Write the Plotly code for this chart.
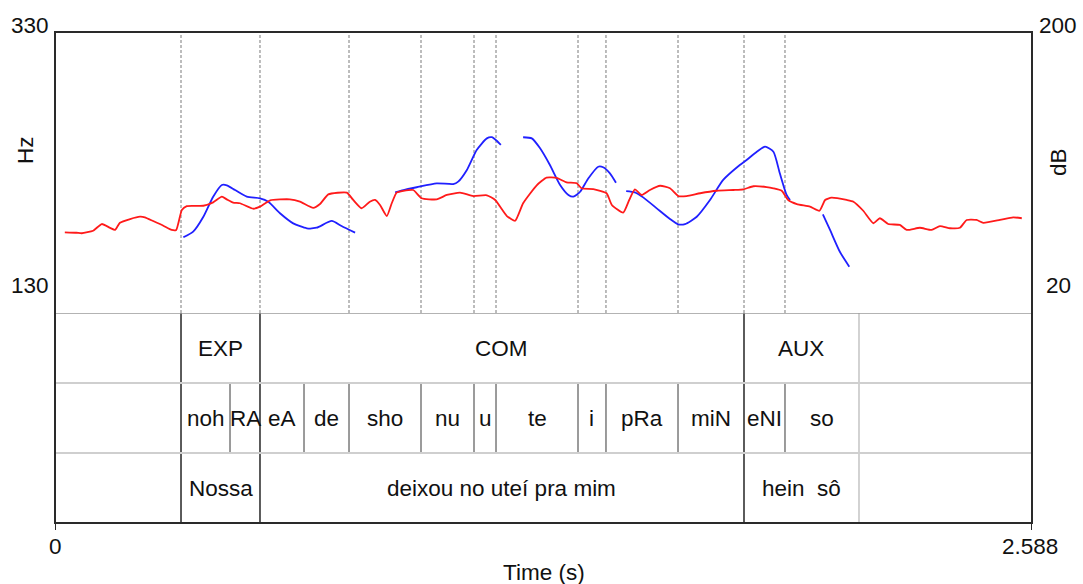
import plotly.graph_objects as go

# ---------------- data ----------------
T_MAX = 2.588

# intensity (dB), red curve
int_t = [0.026, 0.057, 0.071, 0.101, 0.124, 0.146, 0.159, 0.172, 0.199, 0.225, 0.238, 0.260, 0.287,
         0.309, 0.321, 0.336, 0.349, 0.393, 0.419, 0.442, 0.455, 0.472, 0.490, 0.525, 0.543, 0.570,
         0.622, 0.649, 0.684, 0.702, 0.724, 0.773, 0.790, 0.812, 0.834, 0.848, 0.861, 0.879, 0.892,
         0.905, 0.923, 0.949, 0.971, 1.011, 1.038, 1.073, 1.108, 1.144, 1.166, 1.197, 1.219, 1.240,
         1.276, 1.302, 1.329, 1.355, 1.382, 1.395, 1.426, 1.461, 1.475, 1.505, 1.521, 1.536, 1.554,
         1.576, 1.603, 1.629, 1.651, 1.673, 1.709, 1.753, 1.797, 1.823, 1.850, 1.885, 1.903, 1.925,
         1.942, 1.965, 2.000, 2.025, 2.040, 2.057, 2.097, 2.115, 2.141, 2.168, 2.185, 2.207, 2.238,
         2.256, 2.291, 2.322, 2.344, 2.371, 2.397, 2.415, 2.441, 2.459, 2.503, 2.538, 2.561]
int_db = [71.7, 71.4, 71.1, 72.7, 77.0, 74.5, 73.2, 77.8, 80.2, 81.7, 81.3, 78.9, 75.9,
          73.2, 73.2, 86.0, 88.5, 88.7, 90.9, 94.5, 92.8, 90.7, 90.3, 86.8, 88.1, 92.2,
          92.8, 91.3, 87.3, 89.8, 96.0, 97.1, 92.4, 87.1, 91.3, 92.4, 89.2, 82.1, 90.3,
          97.1, 98.3, 98.8, 93.5, 92.8, 95.6, 97.1, 94.9, 95.4, 92.4, 82.1, 79.1, 90.3,
          101.8, 106.7, 106.5, 103.7, 103.1, 99.9, 99.4, 96.7, 89.2, 84.3, 92.4, 99.2, 95.6,
          98.8, 101.5, 99.9, 94.9, 94.9, 96.7, 98.3, 98.8, 99.2, 101.2, 100.7, 99.9, 98.3,
          92.4, 89.8, 88.1, 85.5, 92.4, 93.9, 92.4, 91.3, 85.5, 77.5, 80.7, 77.0, 76.4,
          73.2, 74.6, 73.2, 75.7, 74.3, 74.6, 79.6, 79.6, 77.8, 79.6, 81.3, 80.7]

# pitch (Hz), blue curve, None = unvoiced gap
pitch_t = [0.340, 0.366, 0.393, 0.419, 0.442, 0.455, 0.477, 0.508, 0.543, 0.565, 0.596, 0.631,
           0.667, 0.693, 0.733, 0.759, 0.795, None,
           0.901, 0.923, 0.958, 1.011, 1.055, 1.068, 1.091, 1.117, 1.144, 1.157, 1.170, 1.181, None,
           1.240, 1.263, 1.285, 1.311, 1.338, 1.360, 1.373, 1.391, 1.413, 1.439, 1.452, 1.470,
           1.486, None,
           1.513, 1.536, 1.558, 1.594, 1.629, 1.651, 1.669, 1.700, 1.735, 1.770, 1.814, 1.832,
           1.859, 1.881, 1.903, 1.920, 1.938, 1.947, None,
           2.034, 2.053, 2.079, 2.104]
pitch_hz = [183.9, 187.9, 198.5, 212.8, 221.1, 220.9, 217.5, 212.8, 211.6, 209.2, 201.0, 193.8,
            190.3, 190.7, 195.5, 191.9, 187.2, None,
            215.9, 217.5, 219.5, 222.3, 221.8, 223.5, 231.8, 246.0, 254.3, 255.1, 252.6, 249.6, None,
            255.1, 254.3, 247.2, 235.3, 221.1, 214.0, 212.8, 216.3, 225.9, 234.1, 233.7, 229.4,
            222.7, None,
            216.8, 215.9, 212.3, 204.5, 196.9, 193.1, 193.3, 198.5, 210.4, 224.7, 235.3, 238.9,
            244.8, 248.4, 244.8, 229.4, 214.0, 210.4, None,
            200.2, 189.1, 173.6, 163.0]

HZ_RANGE = [130, 330]
DB_RANGE = [20, 200]

# TextGrid tiers
tier1_bounds = [0.3338, 0.5430, 1.8251, 2.1297]
tier1_labels = ["", "EXP", "COM", "AUX", ""]
tier2_bounds = [0.3338, 0.4636, 0.5430, 0.6596, 0.7788, 0.9695, 1.1099, 1.1682,
                1.3854, 1.4595, 1.6503, 1.8251, 1.9337, 2.1297]
tier2_labels = ["", "noh", "RA", "eA", "de", "sho", "nu", "u", "te", "i", "pRa", "miN", "eNI", "so", ""]
tier3_bounds = [0.3338, 0.5430, 1.8251, 2.1297]
tier3_labels = ["", "Nossa", "deixou no uteí pra mim", "hein  sô", ""]

# boundaries that are marked in the pitch panel
pitch_marks = [0.3338, 0.5430, 0.7788, 0.9695, 1.1099, 1.1682, 1.3854, 1.4595, 1.6503, 1.8251, 1.9337]

# ---------------- layout helpers ----------------
W, H = 1083, 584
L, R, TOP, BOT = 55, 1032, 32, 523          # frame in pixels
SPLIT = 313                                   # pitch panel / tiers
FONT = "Liberation Sans, Arial, sans-serif"
FS = 22.5


def px(x):
    return (x - L) / (R - L)


def py(y):
    return (BOT - y) / (BOT - TOP)


fig = go.Figure()

fig.add_trace(go.Scatter(x=int_t, y=int_db, mode="lines", yaxis="y2",
                         line=dict(color="#ff1a1a", width=1.8, shape="spline", smoothing=0.5),
                         connectgaps=False, hoverinfo="skip", showlegend=False))
fig.add_trace(go.Scatter(x=pitch_t, y=pitch_hz, mode="lines", yaxis="y",
                         line=dict(color="#2020ff", width=1.8, shape="spline", smoothing=0.6),
                         connectgaps=False, hoverinfo="skip", showlegend=False))

shapes = []
# dotted marks in pitch panel
for t in pitch_marks:
    shapes.append(dict(type="line", xref="x", yref="y", x0=t, x1=t, y0=HZ_RANGE[0], y1=HZ_RANGE[1],
                       line=dict(color="#7a7a7a", width=1, dash="3px,2px"), layer="below"))

# tier boundaries
main = set(tier1_bounds[:-1])
for k, bounds in enumerate([tier1_bounds, tier2_bounds, tier3_bounds]):
    y_lo, y_hi = 2 - k, 3 - k
    for i, b in enumerate(bounds):
        if b in main:
            col, w = "#333333", 1.6
        elif b == bounds[-1]:
            col, w = "#c8c8c8", 1.6
        else:
            col, w = "#7a7a7a", 1.5
        shapes.append(dict(type="line", xref="x", yref="y3", x0=b, x1=b, y0=y_lo, y1=y_hi,
                           line=dict(color=col, width=w)))

# horizontal separators
shapes.append(dict(type="line", xref="paper", yref="y3", x0=0, x1=1, y0=3, y1=3,
                   line=dict(color="#9a9a9a", width=1.6)))
for yv in (1, 2):
    shapes.append(dict(type="line", xref="paper", yref="y3", x0=0, x1=1, y0=yv, y1=yv,
                       line=dict(color="#cfcfcf", width=1.8)))
# frame
shapes.append(dict(type="rect", xref="paper", yref="paper", x0=0, x1=1, y0=0, y1=1,
                   line=dict(color="#2a2a2a", width=2)))
# bottom ticks
for t in (0, T_MAX):
    shapes.append(dict(type="line", xref="x", yref="paper", x0=t, x1=t, y0=0, y1=py(530),
                       line=dict(color="#2a2a2a", width=2)))

annotations = []


def add_text(text, x, y, xref="paper", yref="paper", angle=0, size=FS):
    annotations.append(dict(text=text, x=x, y=y, xref=xref, yref=yref, showarrow=False,
                            xanchor="center", yanchor="middle", textangle=angle,
                            font=dict(family=FONT, size=size, color="#111111")))


for k, (bounds, labels) in enumerate([(tier1_bounds, tier1_labels),
                                      (tier2_bounds, tier2_labels),
                                      (tier3_bounds, tier3_labels)]):
    edges = [0] + bounds + [T_MAX]
    for i, lab in enumerate(labels):
        if lab:
            add_text(lab, (edges[i] + edges[i + 1]) / 2, 2.5 - k, xref="x", yref="y3")

add_text(str(HZ_RANGE[1]), px(30), py(25))
add_text(str(HZ_RANGE[0]), px(30), py(285))
add_text("Hz", px(25), py(150), angle=-90)
add_text(str(DB_RANGE[1]), px(1058), py(25))
add_text(str(DB_RANGE[0]), px(1058), py(285))
add_text("dB", px(1058), py(162), angle=-90)
add_text("0", px(55), py(546))
add_text(f"{T_MAX:.3f}", px(1030), py(546))
add_text("Time (s)", px(544), py(572))

split_frac = py(SPLIT)
fig.update_layout(
    width=W, height=H,
    margin=dict(l=L, r=W - R, t=TOP, b=H - BOT, pad=0),
    paper_bgcolor="white", plot_bgcolor="white",
    xaxis=dict(range=[0, T_MAX], showgrid=False, zeroline=False, showticklabels=False,
               ticks="", showline=False, anchor="y3"),
    yaxis=dict(range=HZ_RANGE, domain=[split_frac, 1], showgrid=False, zeroline=False,
               showticklabels=False, ticks="", showline=False),
    yaxis2=dict(range=DB_RANGE, overlaying="y", side="right", showgrid=False, zeroline=False,
                showticklabels=False, ticks="", showline=False),
    yaxis3=dict(range=[0, 3], domain=[0, split_frac], showgrid=False, zeroline=False,
                showticklabels=False, ticks="", showline=False),
    shapes=shapes, annotations=annotations,
    showlegend=False,
)

fig.write_html("out.html", config={"displayModeBar": False},
               post_script="document.body.style.margin='0';document.body.style.overflow='hidden';")
